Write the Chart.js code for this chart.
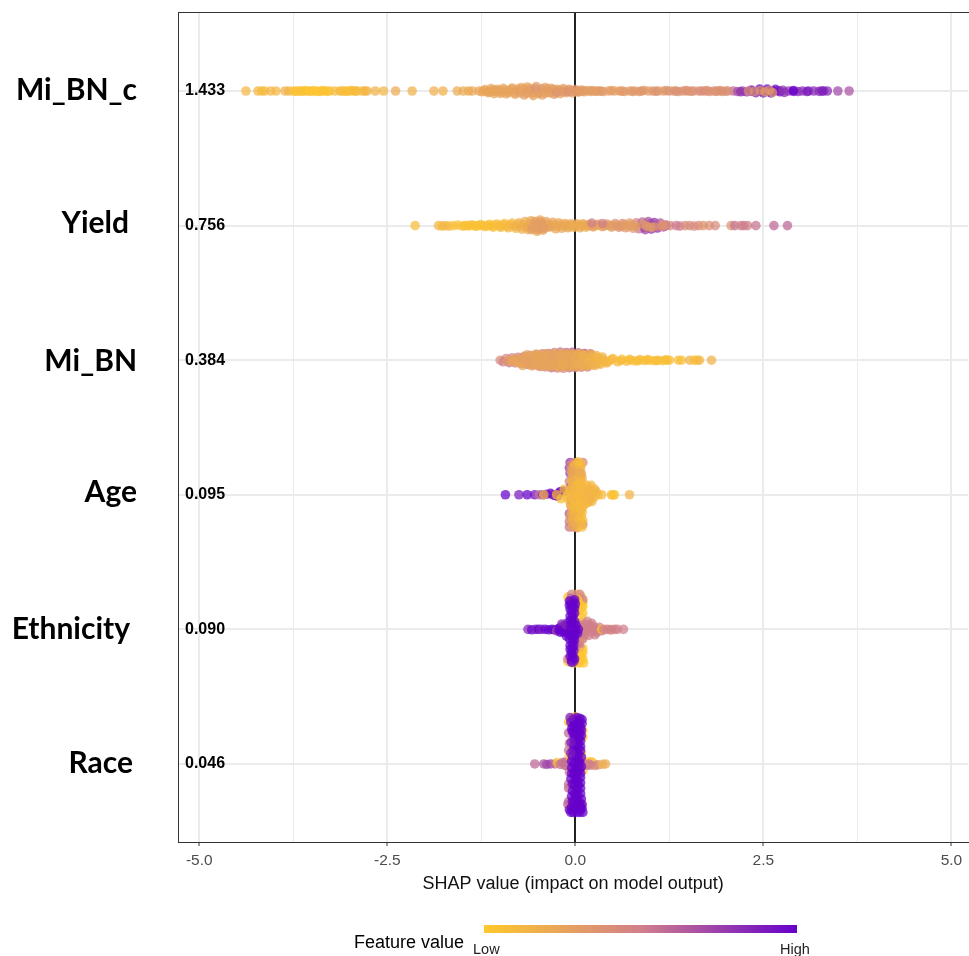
<!DOCTYPE html>
<html><head><meta charset="utf-8">
<style>html,body{margin:0;padding:0;background:#fff;overflow:hidden;width:969px;height:956px}#wrap{width:973px;height:956px;position:relative}</style>
<script src="https://cdn.jsdelivr.net/npm/chart.js@4"></script>
</head><body><div id="wrap"><canvas id="c"></canvas></div>
<script>
const featureNames = ['Mi_BN_c','Yield','Mi_BN','Age','Ethnicity','Race'];
const meanShap = ['1.433','0.756','0.384','0.095','0.090','0.046'];
const xTicks = [-5,-3.75,-2.5,-1.25,0,1.25,2.5,3.75,5];
const xLabels = ['-5.0','','-2.5','','0.0','','2.5','','5.0'];

// each point: [SHAP value, vertical jitter in row units, feature value 0..1]
const miBNc = [
[2.1,0,.6],[2.16,.004,.7],[2.22,0,.75],[2.28,.006,.85],[2.34,-.008,.85],[2.4,.012,.95],[2.45,-.014,1],[2.5,.014,.9],[2.55,-.014,.95],[2.6,.014,1],[2.66,-.012,.95],[2.72,.006,1],[2.78,.01,.85],[2.84,0,.8],[2.9,-.004,.95],[2.96,.004,.85],[3.02,0,.82],[3.1,0,.85],[3.17,0,.84],[3.24,.003,.82],[3.3,0,.82],[3.35,0,.84],[3.49,0,.72],[3.64,0,.68],[2.35,.003,.9],[2.48,0,1],[2.58,0,1],[2.64,0,1],[2.7,-.004,.9],[2.76,-.006,.8],[2.2,.006,.8],[2.9,.003,1],[3.08,.004,.9],[3.28,0,.9],
[-4.38,0,.12],[-4.22,0,.12],[-4.17,0,.1],[-4.13,0,.1],[-4.05,0,.12],[-3.98,0,.12],[-3.86,0,.15],[-3.81,0,.15],[-3.75,0,.05],[-3.69,0,.03],[-3.63,.003,.05],[-3.57,0,.03],[-3.51,.004,.02],[-3.45,0,.02],[-3.39,.003,.02],[-3.33,0,.03],[-3.27,0,.05],[-3.2,0,.09],[-3.13,0,.1],[-3.07,0,.08],[-3.01,0,.05],[-2.95,0,.1],[-2.83,0,.13],[-2.77,0,.13],[-2.66,0,.16],[-2.55,0,.13],[-2.39,0,.2],[-2.17,0,.16],[-1.88,0,.18],[-1.76,0,.16],[-1.57,0,.2],[-1.49,0,.21],[-1.42,0,.2],[-1.37,0,.22],
[-3.72,.003,.04],[-3.66,0,.04],[-3.6,-.003,.03],[-3.54,0,.02],[-3.48,-.004,.02],[-3.42,.004,.02],[-3.36,-.003,.03],[-3.3,.003,.03],[-3.1,0,.08],[-3.04,.003,.06],[-2.98,-.003,.07],[-2.92,0,.1],[-2.9,0,.08],[-2.8,0,.12],
[-1.28,0,.22],[-1.24,.006,.24],[-1.2,-.01,.22],[-1.16,.012,.24],[-1.12,-.018,.25],[-1.08,.02,.25],[-1.04,-.012,.24],[-1.0,.018,.27],[-.96,-.02,.25],[-.92,.022,.26],[-.88,0,.24],[-.84,-.022,.25],[-.8,.024,.27],[-.76,0,.3],[-.72,-.026,.26],[-.68,.03,.28],[-.64,-.03,.25],[-.6,0,.33],[-.56,.034,.26],[-.52,-.034,.28],[-.48,.01,.34],[-.44,.03,.27],[-.4,-.026,.3],[-.36,.012,.26],[-.32,-.02,.27],[-.28,.024,.33],[-.24,-.012,.28],[-.2,.02,.27],[-.16,-.018,.3],[-.12,.012,.3],[-.08,-.012,.36],[-.04,.014,.3],[0,-.01,.3],[.04,.008,.3],[.08,-.008,.32],[.12,.006,.28],[.16,-.004,.31],[.2,.004,.3],
[-1.22,-.002,.23],[-1.17,.002,.24],[-1.13,.008,.24],[-1.09,-.008,.25],[-1.05,.006,.24],[-1.01,-.006,.25],[-.97,.008,.25],[-.93,-.008,.26],[-.89,.012,.24],[-.85,-.012,.25],[-.81,.012,.26],[-.77,-.014,.27],[-.73,.014,.28],[-.69,-.014,.26],[-.65,.016,.3],[-.61,-.018,.28],[-.57,.018,.29],[-.53,-.018,.36],[-.49,.02,.28],[-.45,-.016,.32],[-.41,.016,.28],[-.37,-.014,.3],[-.33,.014,.28],[-.29,-.01,.3],[-.25,.01,.36],[-.21,-.006,.3],[-.17,.006,.34],[-.13,-.006,.3],[-.09,.004,.38],[-.05,-.004,.32],[-.01,.004,.32],[.03,0,.34],[.07,.002,.3],[.11,-.002,.31],
[.25,0,.31],[.31,0,.3],[.37,.004,.31],[.44,0,.3],[.52,0,.29],[.59,0,.3],[.65,.004,.33],[.72,0,.32],[.79,0,.31],[.85,.004,.33],[.91,-.004,.35],[.97,0,.3],[1.03,0,.34],[1.1,0,.36],[1.17,0,.3],[1.25,0,.36],[1.31,0,.36],[1.37,.004,.36],[1.43,0,.38],[1.5,0,.38],[1.57,0,.42],[1.64,0,.38],[1.72,0,.42],[1.78,.004,.38],[1.84,0,.4],[1.9,0,.4],[1.96,.004,.38],[2.03,0,.42],
[.22,-.003,.3],[.28,.003,.3],[.34,0,.32],[.48,-.003,.3],[.62,0,.31],[.76,.003,.33],[.88,0,.34],[1.07,.003,.36],[1.21,-.003,.36],[1.34,0,.38],[1.47,-.003,.38],[1.54,.003,.36],[1.68,0,.4],[1.75,-.003,.38],[1.87,.003,.36],[1.93,-.003,.38],[2.0,0,.38],
[2.3,0,.38],[2.38,.004,.36],[2.46,-.004,.34],[2.52,.006,.3],[2.62,.012,.3],[2.58,-.004,.34]
];
const yieldVals = [
[.81,-.02,.48],[.85,.024,.55],[.89,-.026,.6],[.93,.03,.75],[.97,-.03,.7],[1.01,.026,.8],[1.05,-.022,.8],[1.09,.018,.85],[1.13,-.018,.65],[1.17,.01,.7],[1.21,0,.6],[1.0,-.014,.7],[.92,.014,.7],[1.08,.004,.7],
[-2.13,0,.08],[-1.82,0,.12],[-1.77,.004,.12],[-1.73,0,.12],[-1.68,.004,.12],[-1.62,0,.06],[-1.56,-.004,.06],[-1.5,.004,.05],[-1.44,0,.06],[-1.38,-.006,.05],[-1.32,.006,.06],[-1.26,-.008,.05],[-1.2,.008,.06],[-1.14,-.01,.05],[-1.09,.012,.08],[-1.04,-.012,.07],[-.99,.014,.1],[-.94,-.016,.08],[-.89,.016,.13],[-.84,-.018,.12],[-.79,.02,.14],[-.75,-.02,.15],
[-1.47,0,.05],[-1.41,.002,.05],[-1.35,0,.06],[-1.29,0,.05],[-1.23,0,.05],[-1.17,0,.06],[-1.12,.004,.06],[-1.07,-.004,.07],[-1.01,.004,.08],[-.96,-.004,.09],[-.91,.005,.1],[-.86,-.005,.12],[-.81,.006,.14],[-.77,-.006,.16],
[-.71,.026,.18],[-.67,-.03,.2],[-.63,.03,.2],[-.59,-.036,.22],[-.51,.042,.22],[-.47,-.042,.22],[-.43,.034,.26],[-.39,-.03,.28],[-.35,.012,.24],[-.3,-.024,.24],[-.26,.024,.24],[-.22,-.02,.22],[-.18,.02,.22],[-.14,-.016,.22],[-.1,.016,.24],[-.06,-.014,.22],[-.02,.014,.2],[.02,-.014,.2],[.06,.016,.2],[.1,-.014,.22],[.14,.012,.2],[.19,-.01,.24],[.24,.01,.28],[.3,-.01,.28],[.36,.008,.28],[.42,-.012,.3],[.48,.012,.3],[.53,-.016,.38],[.58,.014,.36],[.63,-.016,.42],[.67,.016,.32],[.72,-.018,.32],[.77,.02,.34],
[-.72,.006,.18],[-.68,-.008,.18],[-.64,.012,.2],[-.6,-.014,.2],[-.56,.016,.24],[-.52,-.018,.24],[-.48,.018,.26],[-.44,-.016,.26],[-.4,.012,.26],[-.36,-.012,.24],[-.32,.008,.24],[-.28,-.006,.24],[-.24,.006,.22],[-.2,-.004,.22],[-.16,.004,.22],[-.12,-.004,.22],[-.08,.004,.22],[-.04,-.004,.2],[0,.004,.2],[.04,-.004,.2],[.08,.004,.2],[.12,-.004,.2],[.17,0,.22],[.22,.004,.24],[.27,-.002,.26],[.33,0,.26],[.39,.002,.28],[.45,-.002,.3],[.51,.002,.3],[.56,0,.32],[.61,.004,.34],[.66,-.006,.3],[.71,.006,.3],[.76,-.006,.3],[.8,.006,.3],
[-.58,.03,.3],[-.54,-.03,.28],[-.5,.03,.3],[-.46,-.028,.28],[-.42,.022,.3],[-.55,0,.28],[-.5,.006,.3],[-.45,-.006,.3],
[1.26,0,.42],[1.34,0,.52],[1.39,.004,.52],[1.46,0,.42],[1.52,0,.42],[1.58,.004,.42],[1.64,0,.42],[1.7,0,.35],[1.78,0,.38],[1.86,0,.42],[2.07,0,.35],[2.12,0,.55],[2.2,0,.5],[2.24,0,.52],[2.29,0,.5],[2.4,0,.55],[2.64,0,.6],[2.82,0,.6],
[1.0,.014,.32],[1.04,.01,.32],[.9,-.01,.36],[.95,.006,.32],[.22,-.018,.5],[.36,-.016,.5],[1.12,.006,.45],[1.2,-.006,.45],[1.16,.002,.34]
];
const miBN = [
[-1.0,0,.4],[-.96,.012,.5],[-.92,-.012,.45],[-.88,.018,.55],[-.84,-.018,.48],[-.8,.02,.5],[-.76,-.022,.5],[-.72,.024,.42],[-.68,-.028,.5],[-.64,.03,.6],[-.6,-.034,.5],[-.56,.036,.45],[-.52,-.04,.5],[-.48,.044,.55],[-.44,-.048,.5],[-.4,.05,.5],[-.36,-.05,.55],[-.32,.056,.62],[-.28,-.056,.5],[-.24,.058,.5],[-.2,-.06,.55],[-.16,.06,.45],[-.12,-.056,.6],[-.08,.056,.6],[-.04,-.058,.7],[0,.056,.55],[.04,-.054,.6],[.08,.052,.55],[.12,-.05,.75],[.16,.05,.55],[.2,-.048,.6],
[-.9,.004,.3],[-.84,0,.28],[-.78,.012,.25],[-.72,-.012,.28],[-.66,.016,.26],[-.6,-.02,.25],[-.54,.024,.26],[-.48,-.026,.28],[-.42,.03,.25],[-.36,-.03,.28],[-.3,.036,.24],[-.24,-.038,.26],[-.18,.04,.24],[-.12,-.04,.26],[-.06,.04,.24],[0,-.04,.24],[.06,.04,.22],[.12,-.036,.22],[.18,.034,.2],[.24,-.03,.18],[.3,.028,.15],[.36,-.024,.15],[.42,.02,.12],
[-.7,.04,.24],[-.64,-.04,.24],[-.58,.042,.24],[-.52,-.046,.24],[-.46,.048,.24],[-.4,-.048,.24],[-.34,.05,.24],[-.28,-.05,.24],[-.22,.052,.24],[-.16,-.052,.25],[-.1,.05,.24],[-.04,-.05,.24],[.02,.05,.22],[.08,-.048,.22],[.14,.046,.2],[.2,-.044,.2],[.26,.04,.18],
[-.85,.01,.27],[-.8,-.006,.26],[-.74,.022,.24],[-.68,-.022,.25],[-.62,.03,.25],[-.56,-.032,.24],[-.5,.036,.25],[-.44,-.036,.24],[-.38,.04,.24],[-.32,-.04,.25],[-.26,.042,.24],[-.2,-.042,.25],[-.14,.044,.24],[-.08,-.044,.24],[-.02,.044,.23],[.04,-.044,.22],[.1,.042,.21],[.16,-.04,.2],[.22,.036,.18],[.28,-.034,.17],[.34,.03,.15],
[-.76,0,.26],[-.68,.004,.25],[-.6,0,.28],[-.52,.008,.26],[-.44,-.008,.26],[-.36,.012,.25],[-.28,-.014,.25],[-.2,.018,.22],[-.12,-.018,.24],[-.04,.02,.24],[.04,-.02,.2],[.12,.018,.18],[.2,-.012,.15],[.28,.01,.14],[.36,-.006,.13],[.44,.008,.12],[.5,-.012,.1],[.56,.012,.1],[.62,-.006,.08],[.68,.008,.08],[.74,0,.07],[.8,.006,.07],[.86,-.004,.07],[.92,.004,.06],[.98,0,.06],[1.04,.004,.06],[1.1,0,.06],[1.16,.004,.07],[1.22,0,.06],[1.25,0,.06],[1.37,0,.06],[1.41,0,.06],[1.52,0,.16],[1.58,0,.08],[1.62,0,.06],[1.65,0,.12],[1.81,0,.16],
[-.55,.02,.25],[-.45,0,.27],[-.35,-.02,.26],[-.25,0,.25],[-.15,.008,.24],[-.05,0,.25],[.05,.004,.22],[-.5,-.012,.24],[-.4,.012,.25],[-.3,.024,.24],[-.2,-.028,.24],[-.1,.028,.24],[0,-.028,.22],[.1,.028,.2],[.2,.02,.17],[.3,-.018,.14],[.4,.012,.12],[.48,-.004,.1],[.6,.004,.08],[.72,-.006,.07],[.84,.004,.07],[.96,-.004,.06],[1.08,.004,.06],[1.2,-.003,.06],[-.62,.012,.27],[-.7,-.008,.27],[-.3,-.034,.27],[-.1,-.034,.24],[.1,-.034,.18],[-.36,.03,.25],[-.16,.032,.22],[.02,.03,.2]
];
const age = [
[-.93,0,1],[-.75,0,.9],[-.64,0,1],[-.54,0,.95],[-.48,0,.55],[-.43,0,.9],[-.38,-.004,.92],[-.33,-.01,1],[-.27,.006,1],[-.24,.01,.95],[-.2,-.024,1],[-.16,-.028,1],[-.3,0,.9],[-.22,-.012,1],
[-.08,.24,.55],[-.08,.2,.55],[-.08,.14,.7],[-.08,-.02,.72],[-.08,-.1,.5],[-.07,-.16,.8],[-.08,-.2,.8],[-.07,-.24,.8],[-.06,.08,.5],[-.06,-.06,.8],[.1,-.24,.5],[.1,.22,.5],[-.02,-.24,.45],[.02,-.235,.42],[-.03,.24,.5],[.02,.245,.45],[-.06,-.18,.45],[-.06,-.22,.42],[-.07,.16,.35],[-.06,.04,.7],
[-.05,.2,.2],[.05,.22,.1],[.09,.24,.08],[.03,.24,.08],[.1,.19,.08],[.06,.18,.06],[-.03,.17,.1],[.02,.14,.12],[.09,.13,.1],[-.04,.11,.2],[.04,.1,.15],[.12,.07,.1],[.16,.06,.12],[-.07,.06,.1],[.0,.05,.1],[.08,.04,.1],[.2,.03,.15],[.25,.02,.1],[.15,-.01,.2],[.23,-.01,.15],[.3,0,.1],[.28,-.02,.15],[.08,-.01,.1],[-.04,-.01,.12],[-.12,.02,.08],[-.07,-.03,.1],[.02,-.03,.12],[.12,-.04,.15],[.2,-.05,.1],[.26,-.04,.18],[-.04,-.07,.1],[.04,-.08,.08],[-.15,-.04,.06],[.09,-.1,.1],[.0,-.13,.1],[.07,-.14,.2],[-.03,-.15,.22],[.06,-.17,.28],[.03,-.19,.25],[-.04,-.2,.3],[.07,-.2,.2],[-.01,-.22,.12],[.05,-.22,.08],
[-.04,.235,.22],[.01,.21,.2],[.08,.21,.14],[-.02,.19,.2],[.03,.17,.12],[.08,.16,.08],[-.05,.14,.2],[.05,.13,.14],[-.02,.12,.14],[.08,.11,.1],[.0,.09,.1],[.1,.09,.12],[-.05,.08,.12],[.05,.07,.1],[-.02,.03,.1],[.05,.02,.1],[.13,.03,.12],[.18,.05,.12],[.22,.05,.14],[.17,.02,.14],[.1,.01,.12],[-.02,.0,.12],[.03,-.01,.1],[.19,-.03,.14],[.24,-.03,.12],[-.1,0,.12],[.0,-.06,.12],[.08,-.06,.12],[.15,-.07,.12],[.21,-.07,.12],[.07,-.08,.1],[-.05,-.1,.14],[.03,-.11,.1],[.09,-.13,.14],[-.04,-.13,.2],[.03,-.15,.14],[.08,-.16,.2],[-.05,-.17,.24],[.02,-.21,.2],[.08,-.23,.12],[.04,-.245,.08],
[.35,0,.1],[.48,0,.06],[.5,.002,.05],[.52,0,.04],[.72,0,.14],[-.42,0,.12],[-.25,0,.08],[-.19,.03,.06]
];
const ethnicity = [
[.05,.25,.02],[.1,.22,.02],[.08,.18,.02],[.1,.14,.02],[.11,.25,.02],[.06,.09,.5],[.1,.06,.02],[.08,-.16,.02],[.1,-.12,.02],[.1,-.2,.02],[.08,-.24,.02],[.02,-.26,.02],[-.1,-.24,.02],[-.05,-.26,.5],[.06,-.26,.5],[-.02,.25,.02],[-.1,.24,.02],[.1,-.22,.5],[-.1,.22,.5],[.04,.12,.5],[.06,.13,.5],[.07,-.05,.5],[.1,.17,.02],[.08,.21,.02],[.1,-.17,.02],[.08,-.09,.02],[.03,-.22,.02],[.03,.2,.02],[.06,.24,.02],[.04,-.14,.02],[.05,-.19,.02],
[-.05,.2,.55],[.08,.02,.02],
[.12,.02,.5],[.16,-.01,.5],[.2,.02,.5],[.24,-.02,.5],[.28,.025,.5],[.32,-.015,.5],[.36,.01,.5],[.2,-.03,.5],[.14,-.04,.5],[.12,.04,.5],[.26,.01,.5],[.32,.012,.5],[.08,.035,.5],[.06,-.03,.5],[.1,-.01,.5],[.14,.01,.5],[.18,.045,.5],[.22,-.045,.5],[.26,.04,.5],[.18,-.02,.5],[.24,.0,.5],[.3,.0,.5],[.1,.07,.5],[.16,-.06,.5],
[.35,0,.02],[.48,.002,.02],[.38,0,.5],[.43,0,.5],[.47,.004,.5],[.52,0,.5],[.56,0,.5],[.64,0,.5],
[-.63,0,.85],[-.58,.003,1],[-.53,0,.9],[-.49,0,1],[-.45,0,.9],[-.4,0,1],[-.35,.003,1],[-.31,0,1],[-.27,.004,1],[-.23,-.004,1],[-.18,.003,1],[-.14,0,1],[-.25,.012,.7],[-.13,.02,1],[-.09,.03,1],[-.06,-.03,1],[-.02,.04,1],[-.1,-.02,.8],[.01,-.03,1],[.03,.03,1],[-.01,0,1],[.04,0,1],[-.05,.01,1],[-.03,.07,1],[-.04,.1,1],[-.04,.14,1],[-.05,.17,1],[-.03,.2,1],[-.05,.23,1],[-.05,.245,1],[-.02,.24,.9],[-.04,-.06,1],[-.03,-.1,1],[-.05,-.13,1],[-.03,-.16,1],[-.05,-.18,1],[-.06,-.2,1],[-.03,-.21,1],[-.06,-.23,.6],[.0,-.19,1],
[-.2,-.012,1],[-.16,.018,1],[-.12,-.028,1],[-.16,-.028,.9],[-.2,.022,1],[-.12,.05,1],[-.08,.07,1],[-.1,-.05,1],[-.06,-.07,1],[-.01,.08,1],[-.02,.12,1],[-.07,.12,1],[-.02,.16,1],[-.07,.15,1],[-.07,.2,1],[-.01,.22,1],[-.01,-.12,1],[-.07,-.1,1],[-.01,-.16,1],[-.07,-.15,1],[-.01,-.22,1],[-.08,-.21,1],[-.08,-.18,1],[-.01,-.06,1],[-.01,.04,1],[-.07,.04,1],[-.18,-.04,.85],[-.22,.006,1]
];
const race = [
[-.54,0,.6],[-.42,0,.68],[-.38,.004,.72],[-.33,0,.75],[-.27,0,.6],[-.24,-.01,.02],[-.2,.003,.55],[-.17,-.01,.55],[-.14,.01,.55],[-.12,.012,.55],[-.1,-.012,.55],[-.13,-.016,.55],[-.08,.06,.55],[-.09,.18,.6],[-.09,.15,.55],[-.09,-.1,.55],[-.08,-.15,.5],[-.09,-.23,.6],[-.09,.28,.6],[-.1,.3,.6],[-.09,-.31,.02],[-.05,-.34,.02],[.0,-.35,.05],[.06,-.33,.02],[.1,-.25,.02],[.08,-.08,.02],[.08,-.03,.02],[.1,.05,.02],[-.08,-.06,.02],[.1,-.2,.02],[-.07,.33,.02],[.02,.34,.02],[.08,.3,.02],
[.16,-.012,.02],[.2,-.015,.02],[.23,-.012,.02],[.15,.01,.55],[.2,.01,.55],[.26,.012,.4],[.3,.006,.45],[.36,.003,.14],[.4,0,.2],[.12,0,.4],[.18,0,.5],
[-.03,.36,1],[.02,.36,1],[-.06,.36,1],[.06,.36,1],[.1,.36,1],[-.08,.34,1],[.09,.33,1],[-.05,.32,1],[.02,.31,1],[.06,.3,1],[-.04,.28,1],[.04,.27,1],[-.05,.24,1],[.03,.23,1],[-.04,.2,1],[.02,.19,1],[.04,.16,1],[-.04,.15,1],[.03,.13,1],[-.06,.11,1],[.01,.1,1],[-.05,.07,1],[.03,.06,1],[.06,.04,1],[-.05,.03,1],[.01,.01,1],[.06,-.01,1],[-.05,-.02,1],[.02,-.04,1],[-.04,-.06,1],[.04,-.07,1],[-.03,-.1,1],[.03,-.11,1],[-.02,-.14,1],[.04,-.15,1],[-.02,-.18,1],[.05,-.19,1],[-.02,-.22,1],[.06,-.23,1],[.0,-.25,1],[.07,-.27,1],[-.03,-.28,1],[.05,-.3,1],[-.06,-.31,1],[.03,-.32,1],[.06,-.34,.95],
[.07,.33,1],[-.01,.33,1],[.09,.3,1],[-.02,.29,1],[.08,.26,1],[.0,.25,1],[.07,.22,1],[-.01,.22,1],[.07,.18,1],[-.01,.16,1],[.07,.14,1],[.0,.12,1],[.07,.1,1],[-.02,.08,1],[.07,.07,1],[.0,.05,1],[.08,.02,1],[-.02,.0,1],[.04,-.02,1],[.08,-.05,1],[.0,-.08,1],[.07,-.1,1],[.0,-.12,1],[.07,-.13,1],[.0,-.16,1],[.07,-.17,1],[.0,-.2,1],[.08,-.21,1],[-.04,-.24,1],[.08,-.25,1],[.02,-.27,1],[.09,-.3,1],[-.01,-.3,1],[.09,-.33,1],[-.03,-.33,1],[.02,-.345,1],[-.07,-.345,.9],[-.05,-.26,1],[-.06,-.16,.9],[-.06,-.08,.9]
];
const rows = [miBNc, yieldVals, miBN, age, ethnicity, race];

function tone(v){
  const stops=[[255,200,44],[208,128,138],[102,0,204]];
  const t=Math.min(1,Math.max(0,v))*2, i=Math.min(1,Math.floor(t)), f=t-i;
  const c=[0,1,2].map(k=>Math.round(stops[i][k]+(stops[i+1][k]-stops[i][k])*f));
  return `rgba(${c[0]},${c[1]},${c[2]},0.72)`;
}
const nameRight=[137,129,137,137,130,133], nameShift=[-1,-2,1,-2,0,-1];
const frame={id:'frame',
  beforeDatasetsDraw(ch){const a=ch.chartArea,g=ch.ctx;g.save();g.strokeStyle='#333';g.lineWidth=1;g.strokeRect(a.left+.5,a.top+.5,a.right-a.left+5,a.bottom-a.top);g.restore();},
  afterDraw(ch){const g=ch.ctx,y=ch.scales.y;g.save();g.fillStyle='#000';g.textBaseline='middle';g.textAlign='right';
    g.font='bold 30px Lato';
    featureNames.forEach((n,i)=>g.fillText(n,nameRight[i],y.getPixelForValue(i)+nameShift[i]));
    const lg=g.createLinearGradient(484,0,797,0);lg.addColorStop(0,'#FFC82C');lg.addColorStop(.5,'#D0808A');lg.addColorStop(1,'#6600CC');
    g.fillStyle=lg;g.fillRect(484,925,313,8);
    g.fillStyle='#000';g.textAlign='left';g.font='18px "Liberation Sans"';g.fillText('Feature value',354,943);
    g.font='14.5px "Liberation Sans"';g.fillStyle='#222';g.fillText('Low',473,950);g.fillText('High',780,950);
    g.restore();}
};
new Chart(document.getElementById('c'),{
  type:'scatter',
  data:{datasets:rows.map((r,i)=>({label:featureNames[i],
    data:r.map(p=>({x:p[0],y:i+p[1]})),
    backgroundColor:r.map(p=>tone(p[2])),borderColor:r.map(p=>tone(p[2])),borderWidth:0,pointRadius:4.8,pointHoverRadius:4.8}))},
  options:{responsive:true,maintainAspectRatio:false,animation:false,
    layout:{padding:{left:178,top:12,right:0,bottom:0}},
    plugins:{legend:{display:false},tooltip:{enabled:false}},
    scales:{
      x:{type:'linear',min:-5.283,max:5.223,
        afterBuildTicks(s){s.ticks=xTicks.map(v=>({value:v}));},
        afterFit(s){s.height=114;s.paddingLeft=0;s.paddingRight=0;},
        ticks:{autoSkip:false,maxRotation:0,padding:5,color:'#4d4d4d',font:{family:'Liberation Sans',size:15.5},
          callback(v){return xLabels[xTicks.indexOf(v)];}},
        grid:{color:c=>c.tick&&c.tick.value===0?'#222':'#ebebeb',
          lineWidth:c=>c.tick&&(c.tick.value===0||xTicks.indexOf(c.tick.value)%2===0)?2:1,
          tickColor:c=>c.tick&&xTicks.indexOf(c.tick.value)%2===0?'#333':'rgba(0,0,0,0)',tickLength:4,tickWidth:1},
        border:{display:false},
        title:{display:true,text:'SHAP value (impact on model output)',color:'#111',font:{family:'Liberation Sans',size:18},padding:{top:4,bottom:61}}},
      y:{type:'linear',reverse:true,min:-.587,max:5.58,
        afterBuildTicks(s){s.ticks=meanShap.map((_,i)=>({value:i}));},
        afterFit(s){s.width=0;s.paddingTop=0;s.paddingBottom=0;},
        ticks:{mirror:true,padding:7,autoSkip:false,color:'#000',font:{family:'Liberation Sans',size:16,weight:'bold'},
          callback(v){return meanShap[v];}},
        grid:{color:'#ebebeb',lineWidth:2,drawTicks:false},border:{display:false}}
    }},
  plugins:[frame]
});
</script></body></html>
